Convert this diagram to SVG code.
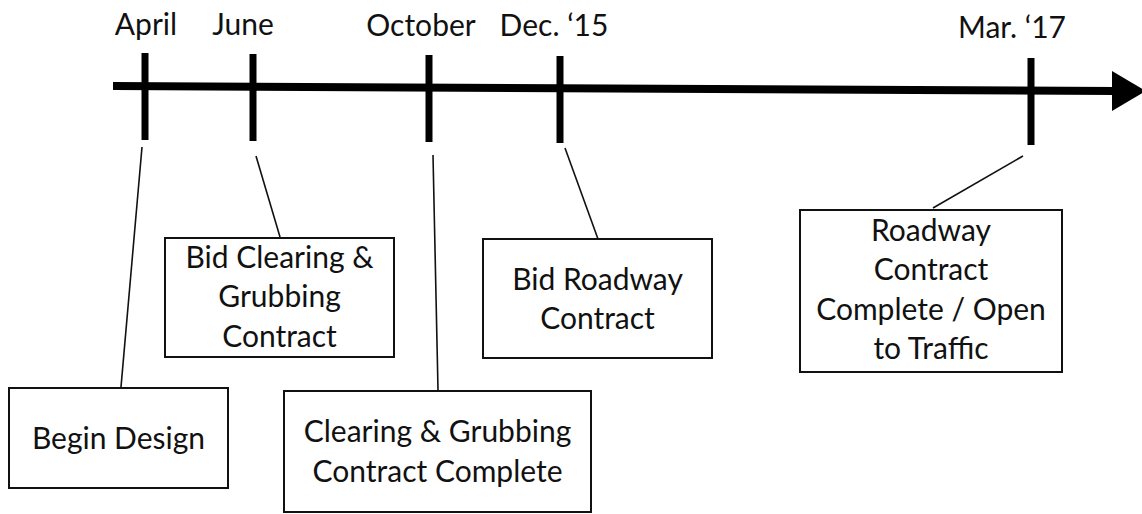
<svg xmlns="http://www.w3.org/2000/svg" width="1142" height="514" viewBox="0 0 1142 514">
<style>
.lbl{font-family:Lato,"Liberation Sans",sans-serif;font-size:30px;fill:#111;text-anchor:middle}
.box{fill:#fff;stroke:#111;stroke-width:2}
.lead{stroke:#111;stroke-width:1.6;fill:none}
.tick{stroke:#000;stroke-width:7}
</style>
<rect width="1142" height="514" fill="#fff"/>
<g id="timeline">
<line x1="113" y1="86" x2="1116" y2="91" stroke="#000" stroke-width="8"/>
<polygon points="1112,71 1146,91 1112,111" fill="#000"/>
<line class="tick" x1="145" y1="53" x2="145" y2="140"/>
<line class="tick" x1="253" y1="54" x2="253" y2="141"/>
<line class="tick" x1="429" y1="55" x2="429" y2="142"/>
<line class="tick" x1="560" y1="56" x2="560" y2="143"/>
<line class="tick" x1="1031" y1="58" x2="1031" y2="145"/>
<text class="lbl" x="146" y="35">April</text>
<text class="lbl" x="243" y="35">June</text>
<text class="lbl" x="421" y="36">October</text>
<text class="lbl" x="554" y="36">Dec. ‘15</text>
<text class="lbl" x="1012" y="38">Mar. ‘17</text>
</g>
<g id="connectors">
<line class="lead" x1="142" y1="147" x2="121" y2="387"/>
<line class="lead" x1="256" y1="156" x2="280" y2="237"/>
<line class="lead" x1="433" y1="155" x2="438" y2="390"/>
<line class="lead" x1="565" y1="148" x2="598" y2="239"/>
<line class="lead" x1="1023" y1="156" x2="933" y2="208"/>
</g>
<g id="begin-design">
<rect class="box" x="9" y="388" width="219" height="100"/>
<text class="lbl" x="118.5" y="449">Begin Design</text>
</g>
<g id="bid-clearing">
<rect class="box" x="165" y="238" width="229" height="119"/>
<text class="lbl" x="279.5" y="268">Bid Clearing &amp;</text>
<text class="lbl" x="279.5" y="307">Grubbing</text>
<text class="lbl" x="279.5" y="347">Contract</text>
</g>
<g id="clearing-complete">
<rect class="box" x="284" y="391" width="307" height="121"/>
<text class="lbl" x="437.5" y="442">Clearing &amp; Grubbing</text>
<text class="lbl" x="437.5" y="482">Contract Complete</text>
</g>
<g id="bid-roadway">
<rect class="box" x="483" y="239" width="229" height="119"/>
<text class="lbl" x="597.5" y="290">Bid Roadway</text>
<text class="lbl" x="597.5" y="329">Contract</text>
</g>
<g id="roadway-complete">
<rect class="box" x="800" y="210" width="262" height="162"/>
<text class="lbl" x="931" y="241">Roadway</text>
<text class="lbl" x="931" y="280">Contract</text>
<text class="lbl" x="931" y="320">Complete / Open</text>
<text class="lbl" x="931" y="359">to Traffic</text>
</g>
</svg>
